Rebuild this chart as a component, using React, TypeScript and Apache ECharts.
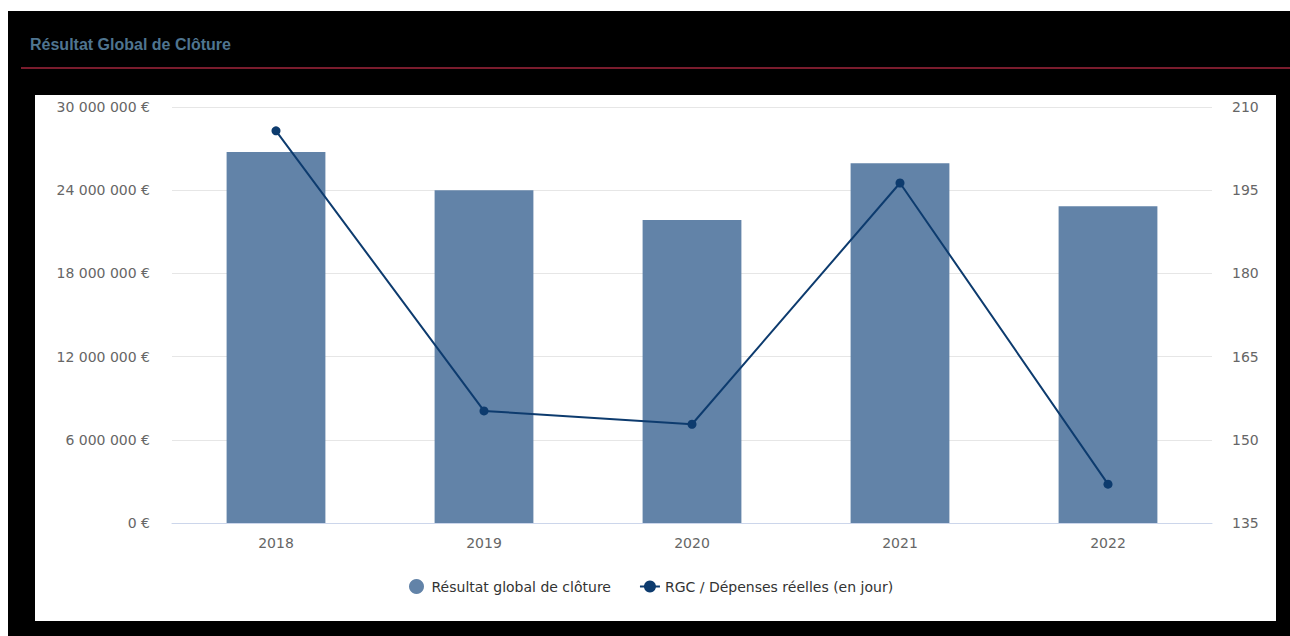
import React, { useEffect, useRef } from "react";
import * as echarts from "echarts";

const categories = ["2018", "2019", "2020", "2021", "2022"];
const resultatGlobal = [26750000, 24000000, 21850000, 25950000, 22850000];
const rgcJours = [205.7, 155.2, 152.8, 196.3, 142.0];
const titleText = "Résultat Global de Clôture";
const seriesNames = ["Résultat global de clôture", "RGC / Dépenses réelles (en jour)"];

const fmtEuro = (v: number) =>
  String(Math.round(v)).replace(/\B(?=(\d{3})+(?!\d))/g, " ") + " €";

export default function App() {
  const ref = useRef<HTMLDivElement>(null);
  useEffect(() => {
    if (!ref.current) return;
    const chart = echarts.init(ref.current, null, { renderer: "svg" });
    const font = "DejaVu Sans";
    chart.setOption({
      animation: false,
      backgroundColor: "#ffffff",
      graphic: [
        { type: "rect", z: -10, shape: { x: 8, y: 11, width: 1282, height: 625 }, style: { fill: "#000000" } },
        { type: "rect", z: -9, shape: { x: 35, y: 95, width: 1241, height: 526 }, style: { fill: "#ffffff" } },
        {
          type: "text", x: 30, y: 44, z: 5,
          style: { text: titleText, fill: "#4f7590", font: "bold 16px 'Liberation Sans', Arial", textVerticalAlign: "middle", verticalAlign: "middle" },
        },
        { type: "line", z: 5, shape: { x1: 21, y1: 68, x2: 1290, y2: 68 }, style: { stroke: "#a3263c", lineWidth: 1.5 } },
      ],
      grid: { left: 172, right: 78, top: 107, bottom: 113 },
      legend: {
        left: 404,
        top: 574,
        itemWidth: 20,
        itemHeight: 15,
        itemGap: 28,
        textStyle: { fontFamily: font, fontSize: 14, color: "#333333" },
        data: [
          { name: seriesNames[0], icon: "circle" },
          { name: seriesNames[1] },
        ],
      },
      xAxis: {
        type: "category",
        data: categories,
        axisTick: { show: false },
        axisLine: { lineStyle: { color: "#ccd6eb" } },
        axisLabel: { color: "#666666", fontFamily: font, fontSize: 14, margin: 13 },
      },
      yAxis: [
        {
          type: "value",
          min: 0,
          max: 30000000,
          interval: 6000000,
          axisLabel: { color: "#666666", fontFamily: font, fontSize: 14, margin: 22, formatter: fmtEuro },
          splitLine: { lineStyle: { color: "#e6e6e6" } },
        },
        {
          type: "value",
          min: 135,
          max: 210,
          interval: 15,
          position: "right",
          axisLabel: { color: "#666666", fontFamily: font, fontSize: 14, margin: 20 },
          splitLine: { show: false },
        },
      ],
      series: [
        {
          name: seriesNames[0],
          type: "bar",
          data: resultatGlobal,
          barWidth: "47.5%",
          itemStyle: { color: "#6283a8" },
          yAxisIndex: 0,
        },
        {
          name: seriesNames[1],
          type: "line",
          data: rgcJours,
          yAxisIndex: 1,
          symbol: "circle",
          symbolSize: 9,
          lineStyle: { color: "#0d3b6e", width: 2 },
          itemStyle: { color: "#0d3b6e" },
        },
      ],
    });
    return () => chart.dispose();
  }, []);
  return (
    <div
      ref={ref}
      style={{ position: "fixed", left: 0, top: 0, width: 1290, height: 636 }}
    />
  );
}
